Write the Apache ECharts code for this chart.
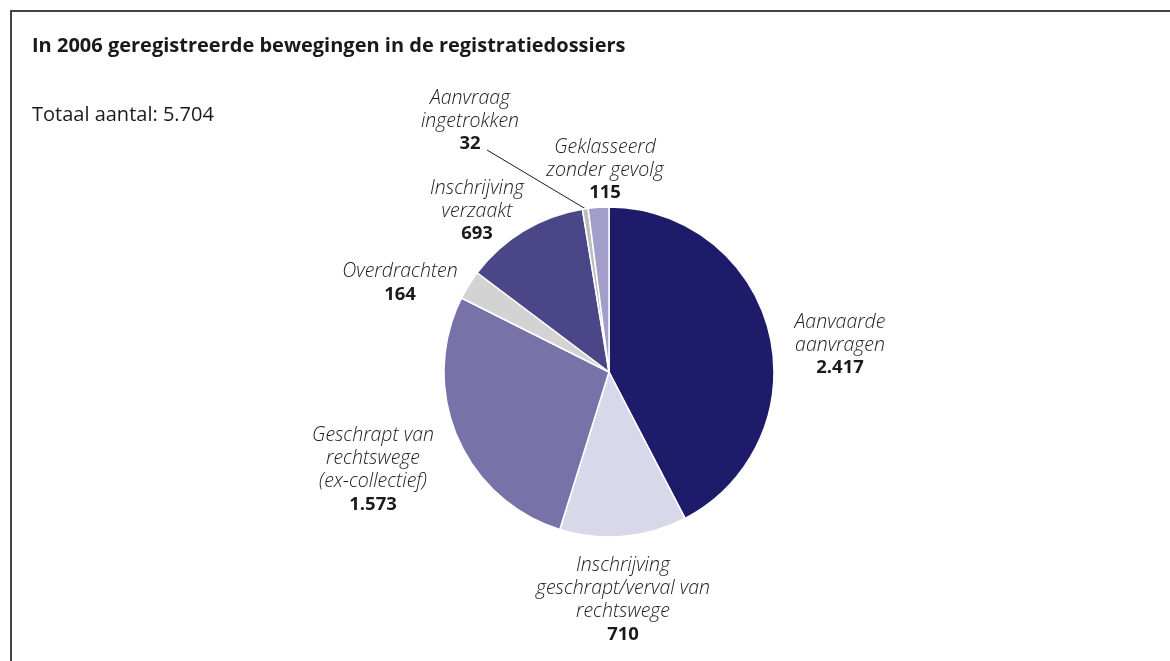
<!DOCTYPE html>
<html>
<head>
<meta charset="utf-8">
<script src="https://cdn.jsdelivr.net/npm/echarts@6/dist/echarts.min.js"></script>
<style>
  html, body { margin: 0; padding: 0; background: #fff; }
  #chart { width: 1170px; height: 661px; }
</style>
</head>
<body>
<div id="chart"></div>
<script>
// slices, clockwise from 12 o'clock
const names = [
  'Aanvaarde\naanvragen',
  'Inschrijving\ngeschrapt/verval van\nrechtswege',
  'Geschrapt van\nrechtswege\n(ex-collectief)',
  'Overdrachten',
  'Inschrijving\nverzaakt',
  'Aanvraag\ningetrokken',
  'Geklasseerd\nzonder gevolg'
];
const values = [2417, 710, 1573, 164, 693, 32, 115];
const colors = ['#1f1b6b', '#d9d7ea', '#7772a8', '#d3d3d3', '#4b4688', '#bdbdbd', '#a29ec9'];
const total = 5704;

// label anchor points (centre of each label block)
const labelPos = [
  [840, 345], [623, 600], [373, 470], [400, 283], [477, 211], [470, 121], [605, 170]
];
const CX = 609, CY = 372, R = 165;
const lineStart = [487, 150]; // where the leader of the small slice starts

const fmt = v => String(v).replace(/\B(?=(\d{3})+(?!\d))/g, '.');
const font = '"Open Sans", "Noto Sans", sans-serif';

// mid angle of a slice (clockwise from top), taken from the data
function midAngle(i) {
  const sum = values.reduce((a, b) => a + b, 0);
  let before = 0;
  for (let k = 0; k < i; k++) before += values[k];
  return (before + values[i] / 2) / sum * 2 * Math.PI;
}

const chart = echarts.init(document.getElementById('chart'));

const option = {
  backgroundColor: '#fff',
  animation: false,
  title: [
    {
      text: 'In 2006 geregistreerde bewegingen in de registratiedossiers',
      left: 27, top: 31,
      textStyle: { fontFamily: font, fontSize: 20, fontWeight: 'bold', color: '#1a1a1a' }
    },
    {
      text: 'Totaal aantal: ' + fmt(total),
      left: 27, top: 100,
      textStyle: { fontFamily: font, fontSize: 20, fontWeight: 'normal', color: '#1a1a1a' }
    }
  ],
  graphic: [
    {
      type: 'rect',
      shape: { x: 11, y: 11, width: 1300, height: 800 },
      style: { fill: 'none', stroke: '#444', lineWidth: 2 }
    }
  ],
  series: [
    {
      type: 'pie',
      center: [CX, CY],
      radius: R,
      startAngle: 90,
      clockwise: true,
      itemStyle: { borderColor: '#fff', borderWidth: 1.5 },
      label: {
        show: true,
        position: 'outside',
        formatter: p => '{n|' + p.name.split('\n').join('}\n{n|') + '}\n{v|' + fmt(p.value) + '}',
        rich: {
          n: { fontFamily: font, fontSize: 19.5, fontStyle: 'italic', fontWeight: 300, color: '#1a1a1a', lineHeight: 23, align: 'center' },
          v: { fontFamily: font, fontSize: 18.5, fontWeight: 'bold', color: '#1a1a1a', lineHeight: 23, align: 'center' }
        }
      },
      labelLine: { show: false },
      labelLayout: p => {
        const out = {
          x: labelPos[p.dataIndex][0],
          y: labelPos[p.dataIndex][1],
          align: 'center',
          verticalAlign: 'middle'
        };
        if (p.dataIndex === 5) {
          const a = midAngle(5);
          const end = [CX + R * Math.sin(a), CY - R * Math.cos(a)];
          out.labelLinePoints = [lineStart, lineStart, end];
        }
        return out;
      },
      emphasis: { disabled: true },
      data: values.map((v, i) => {
        const d = { name: names[i], value: v, itemStyle: { color: colors[i] } };
        if (i === 5) d.labelLine = { show: true, length: 10, length2: 10, lineStyle: { color: '#1a1a1a', width: 1 } };
        return d;
      })
    }
  ]
};

chart.setOption(option);
</script>
</body>
</html>
